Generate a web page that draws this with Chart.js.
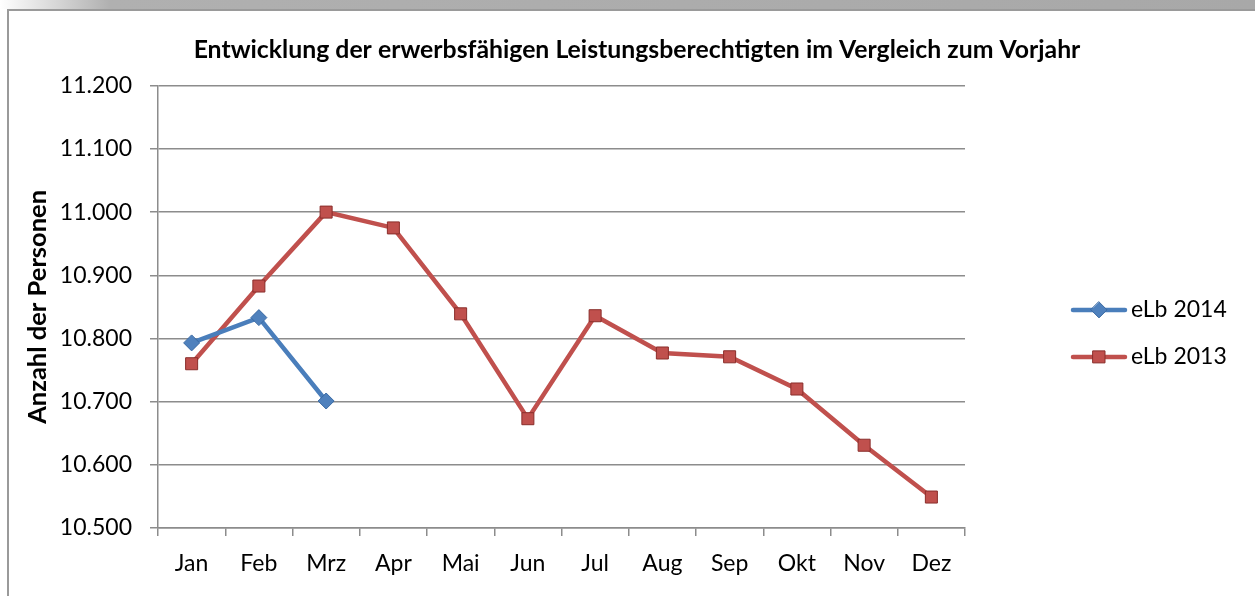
<!DOCTYPE html>
<html>
<head>
<meta charset="utf-8">
<script src="https://cdn.jsdelivr.net/npm/chart.js@4.4.1/dist/chart.umd.min.js"></script>
<style>
  html, body { margin: 0; padding: 0; width: 1255px; height: 596px; overflow: hidden; background: #fff; }
  .topband { position: absolute; left: 0; top: 0; width: 1255px; height: 9px;
    background: linear-gradient(to right, #ffffff 0px, #b0b0b0 110px, #a8a8a8 100%); }
  .box { position: absolute; left: 7px; top: 9px; width: 1260px; height: 600px;
    border-left: 2px solid #9a9a9a; border-top: 2px solid #9a9a9a; background: #fff; }
  .wrap { position: absolute; left: 0; top: 0; width: 1256px; height: 585px; }
</style>
</head>
<body>
<div class="topband"></div>
<div class="box"><div class="wrap"><canvas id="elbChart"></canvas></div></div>
<script>
const months = ["Jan", "Feb", "Mrz", "Apr", "Mai", "Jun", "Jul", "Aug", "Sep", "Okt", "Nov", "Dez"];
const elb2014 = [10793, 10833, 10701, null, null, null, null, null, null, null, null, null];
const elb2013 = [10760, 10883, 11000, 10975, 10839, 10673, 10836, 10777, 10771, 10720, 10631, 10549];
const yTicks = [10500, 10600, 10700, 10800, 10900, 11000, 11100, 11200];

const fontFam = "Lato, 'Open Sans', sans-serif";

// 10800 -> "10.800"
function deNum(v) {
  return String(Math.round(v)).replace(/\B(?=(\d{3})+(?!\d))/g, ".");
}

function drawMarker(ctx, style, x, y, fill, border) {
  ctx.save();
  ctx.fillStyle = fill;
  ctx.strokeStyle = border;
  ctx.lineWidth = 1;
  ctx.beginPath();
  if (style === "rectRot") {
    ctx.moveTo(x, y - 8); ctx.lineTo(x + 8, y); ctx.lineTo(x, y + 8); ctx.lineTo(x - 8, y);
    ctx.closePath();
  } else {
    ctx.rect(x - 6, y - 6, 12, 12);
  }
  ctx.fill();
  ctx.stroke();
  ctx.restore();
}

// legend: line + marker + text, like the office chart
const sideLegend = {
  id: "sideLegend",
  afterDraw(chart) {
    const ctx = chart.ctx;
    const area = chart.chartArea;
    const x0 = area.right + 108;
    const mid = (area.top + area.bottom) / 2;
    chart.data.datasets.forEach((ds, i) => {
      const y = mid + 3 + i * 47;
      ctx.save();
      ctx.strokeStyle = ds.borderColor;
      ctx.lineWidth = 4.5;
      ctx.lineCap = "round";
      ctx.beginPath();
      ctx.moveTo(x0, y);
      ctx.lineTo(x0 + 52, y);
      ctx.stroke();
      drawMarker(ctx, ds.pointStyle, x0 + 26, y, ds.pointBackgroundColor, ds.pointBorderColor);
      ctx.fillStyle = "#000";
      ctx.font = "23px " + fontFam;
      ctx.textBaseline = "middle";
      ctx.fillText(ds.label, x0 + 58, y);
      ctx.restore();
    });
  }
};

new Chart("elbChart", {
  type: "line",
  data: {
    labels: months,
    datasets: [
      {
        label: "eLb 2014",
        data: elb2014,
        borderColor: "#4a7ebb",
        borderWidth: 4.5,
        pointStyle: "rectRot",
        pointRadius: 8,
        pointHoverRadius: 8,
        pointBackgroundColor: "#4f81bd",
        pointBorderColor: "#3a6aa3",
        pointBorderWidth: 1,
        spanGaps: false,
        fill: false
      },
      {
        label: "eLb 2013",
        data: elb2013,
        borderColor: "#c0504d",
        borderWidth: 4.5,
        pointStyle: "rect",
        pointRadius: 8.5,
        pointHoverRadius: 8.5,
        pointBackgroundColor: "#c0504d",
        pointBorderColor: "#8a2e2b",
        pointBorderWidth: 1,
        fill: false
      }
    ]
  },
  options: {
    responsive: true,
    maintainAspectRatio: false,
    animation: false,
    layout: { padding: 0 },
    plugins: {
      legend: { display: false },
      tooltip: { enabled: false },
      title: {
        display: true,
        text: "Entwicklung der erwerbsfähigen Leistungsberechtigten im Vergleich zum Vorjahr",
        color: "#000",
        font: { family: fontFam, size: 24.8, weight: "bold" },
        padding: { top: 24, bottom: 21 }
      }
    },
    scales: {
      x: {
        offset: true,
        grid: { drawOnChartArea: false, color: "#8c8c8c", lineWidth: 1.5, tickLength: 8, offset: true },
        border: { color: "#8c8c8c", width: 1.5 },
        ticks: { color: "#000", font: { family: fontFam, size: 23 }, padding: 14, maxRotation: 0 },
        afterFit(scale) { scale.height = 68; }
      },
      y: {
        min: 10500,
        max: 11200,
        afterBuildTicks(scale) { scale.ticks = yTicks.map(v => ({ value: v })); },
        grid: { color: "#8c8c8c", lineWidth: 1.5, tickLength: 8 },
        border: { color: "#8c8c8c", width: 1.5 },
        ticks: { color: "#000", font: { family: fontFam, size: 23 }, padding: 18, callback: v => deNum(v) },
        title: {
          display: true,
          text: "Anzahl der Personen",
          color: "#000",
          font: { family: fontFam, size: 25.5, weight: "bold" },
          padding: { top: 13, bottom: 0 }
        },
        afterFit(scale) { scale.width = 149; }
      },
      // empty right axis only reserves the room for the legend
      legendRoom: {
        position: "right",
        grid: { display: false },
        border: { display: false },
        ticks: { display: false },
        afterFit(scale) { scale.width = 300; }
      }
    }
  },
  plugins: [sideLegend]
});
</script>
</body>
</html>
